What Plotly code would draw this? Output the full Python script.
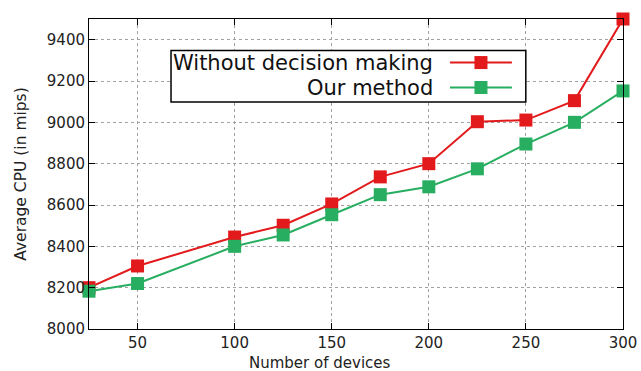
import plotly.graph_objects as go

# Number of devices and average CPU (mips) for the two strategies
devices = [25, 50, 100, 125, 150, 175, 200, 225, 250, 275, 300]
cpu_without_decision = [8200, 8305, 8445, 8502, 8605, 8736, 8800, 9003, 9011, 9105, 9500]
cpu_our_method = [8183, 8220, 8400, 8455, 8553, 8650, 8688, 8775, 8895, 9000, 9152]

series_names = ["Without decision making", "Our method"]
x_ticks = [50, 100, 150, 200, 250, 300]
y_ticks = [8000, 8200, 8400, 8600, 8800, 9000, 9200, 9400]

RED = "#e31a1c"
GREEN = "#27ae60"
FONT = "DejaVu Sans"
TEXT = "#222"

fig = go.Figure()
for name, ys, col in [(series_names[0], cpu_without_decision, RED),
                      (series_names[1], cpu_our_method, GREEN)]:
    fig.add_trace(go.Scatter(
        x=devices, y=ys, name=name, mode="lines+markers",
        line=dict(color=col, width=2),
        marker=dict(symbol="square", size=13, color=col),
        cliponaxis=False, showlegend=False,
    ))

axis_common = dict(
    showline=True, linecolor="black", linewidth=1, mirror="ticks",
    ticks="inside", ticklen=6, tickcolor="black",
    showgrid=True, gridcolor="#a0a0a0", griddash="dot", gridwidth=1,
    zeroline=False, automargin=False,
    tickfont=dict(family=FONT, size=15, color=TEXT),
)

fig.update_xaxes(range=[25, 300], tickvals=x_ticks, **axis_common)
fig.update_yaxes(range=[8000, 9500], tickvals=y_ticks,
                 title=dict(text="Average CPU (in mips)", font=dict(family=FONT, size=15.5, color=TEXT), standoff=16),
                 **axis_common)

# x-axis caption is centred on the whole canvas
annotations = [dict(xref="paper", yref="paper", x=0.4326, y=-0.075, text="Number of devices",
                    showarrow=False, xanchor="center", yanchor="top",
                    font=dict(family=FONT, size=15, color=TEXT))]

# Key box with right-aligned labels and line/marker samples on the right
shapes = [dict(type="rect", xref="paper", yref="paper", x0=0.1536, x1=0.818, y0=0.732, y1=0.898,
               line=dict(color="black", width=1.5), fillcolor="white", layer="above")]
rows = [(0.8595, RED), (0.779, GREEN)]
for name, (yp, col) in zip(series_names, rows):
    annotations.append(dict(xref="paper", yref="paper", x=0.648, y=yp, text=name, showarrow=False,
                            xanchor="right", yanchor="middle",
                            font=dict(family=FONT, size=21, color="#111")))
    shapes.append(dict(type="line", xref="paper", yref="paper", x0=0.676, x1=0.792, y0=yp, y1=yp,
                       line=dict(color=col, width=2), layer="above"))
    shapes.append(dict(type="rect", xref="paper", yref="paper", xsizemode="pixel", ysizemode="pixel",
                       xanchor=0.734, yanchor=yp, x0=-6.5, x1=6.5, y0=-6.5, y1=6.5,
                       line=dict(width=0), fillcolor=col, layer="above"))

fig.update_layout(
    width=641, height=371,
    margin=dict(l=89, r=18, t=19, b=42),
    paper_bgcolor="white", plot_bgcolor="white",
    shapes=shapes, annotations=annotations,
)

fig.write_html("out.html")
